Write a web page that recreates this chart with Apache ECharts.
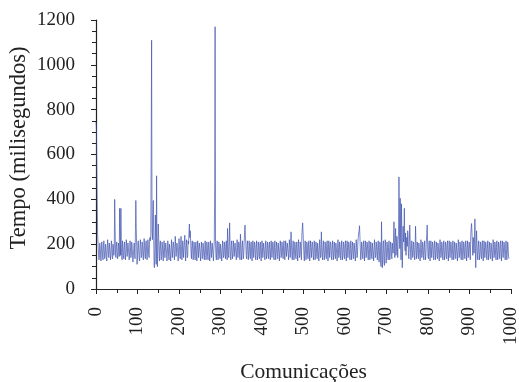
<!DOCTYPE html>
<html><head><meta charset="utf-8">
<script src="https://cdn.jsdelivr.net/npm/echarts@6/dist/echarts.min.js"></script>
<style>html,body{margin:0;padding:0;background:#fff}#c{width:519px;height:382px}</style>
</head><body><div id="c"></div>
<script>
const xTitle = 'Comunicações';
const yTitle = 'Tempo (milisegundos)';
const yTicks = [0, 200, 400, 600, 800, 1000, 1200];
const xTicks = [0, 100, 200, 300, 400, 500, 600, 700, 800, 900, 1000];
// Tempo per comunicação, index = comunicação number (0..995)
const tempo = [
745,720,530,370,240,200,160,130,140,205,190,150,125,170,210,180,140,130,195,215,170,135,150,200,185,140,125,175,220,190,150,140,205,210,160,130,160,215,195,145,135,200,180,150,175,400,280,160,140,190,
210,170,135,150,205,190,145,360,240,150,360,200,140,130,215,185,150,135,195,210,160,130,170,220,190,145,140,205,200,155,130,165,215,185,140,150,210,195,150,120,115,180,205,165,135,260,395,270,190,110,
150,205,215,170,135,125,190,220,185,140,150,210,200,155,130,175,225,190,145,135,205,215,165,130,160,220,195,150,140,210,230,215,240,615,1110,260,220,330,395,250,105,95,180,330,230,110,505,140,100,210,
290,230,150,125,195,215,170,130,145,210,200,150,125,180,215,185,140,135,205,210,160,125,165,215,190,145,130,200,205,155,125,175,220,185,140,140,210,200,150,130,180,235,190,145,140,205,210,165,125,170,
225,195,150,135,200,235,175,130,160,215,190,140,145,210,240,170,125,175,220,185,140,150,215,200,250,290,230,260,215,165,135,190,215,175,130,155,210,195,145,130,200,210,160,125,170,215,185,140,140,205,
205,155,125,175,210,180,135,145,205,200,150,130,180,215,175,130,150,210,195,145,130,195,210,160,125,170,215,185,140,140,205,200,150,125,180,210,440,1170,200,150,130,190,215,170,130,155,210,195,145,135,
200,205,160,125,170,215,185,140,150,210,195,150,135,200,215,165,130,270,210,150,140,205,295,190,145,130,195,215,165,135,160,215,190,145,140,205,210,160,130,175,220,185,140,145,210,200,150,130,245,205,
155,130,185,215,175,135,155,210,250,285,240,200,150,135,195,215,170,130,165,215,190,145,135,200,210,160,125,175,215,185,140,145,210,200,150,130,185,215,175,130,150,210,195,145,135,200,210,160,125,170,
215,185,140,145,205,200,155,130,180,215,175,135,155,210,195,145,135,200,210,160,130,175,215,185,140,145,210,200,150,130,185,215,170,130,160,210,190,145,135,205,210,160,125,175,215,185,140,150,210,195,
150,135,195,215,165,130,165,215,190,145,140,205,210,160,130,180,220,185,140,145,255,200,150,130,185,215,170,130,155,210,195,145,135,200,210,160,125,175,220,185,140,150,210,200,150,130,235,270,295,250,
200,150,125,180,215,175,130,155,210,195,145,135,200,215,165,125,170,215,185,140,145,210,200,150,130,185,215,175,130,160,210,190,145,135,205,210,160,125,175,220,185,140,150,255,200,150,130,185,215,170,
130,155,210,195,145,135,200,215,165,125,170,215,185,140,145,210,200,150,130,180,215,175,130,160,210,190,145,135,205,210,160,125,175,220,185,140,150,210,200,150,130,185,215,170,130,155,210,195,145,135,
200,215,165,125,170,215,185,140,145,210,200,150,130,180,215,175,130,160,210,190,145,135,205,210,160,125,175,220,185,140,150,210,230,250,260,282,230,175,130,155,210,195,145,135,200,215,165,125,170,215,
185,140,145,210,200,150,130,180,215,175,130,160,210,190,145,135,205,210,160,125,175,220,185,140,150,210,200,150,130,185,215,170,120,150,210,195,110,100,300,180,95,130,205,215,120,105,175,220,185,115,
140,210,200,150,130,185,215,170,130,160,210,190,145,135,205,210,160,230,300,210,140,230,270,150,190,235,200,140,210,250,500,330,180,405,230,130,380,260,95,180,280,210,230,360,200,170,250,150,200,230,
190,260,240,145,135,200,285,220,160,130,175,215,185,140,150,210,200,150,130,185,280,200,135,160,210,190,145,135,205,210,160,125,175,220,185,140,150,210,200,150,130,185,215,170,130,155,210,240,285,200,
145,135,200,215,165,125,170,215,185,140,145,210,200,150,130,180,215,175,130,160,210,190,145,135,205,210,160,125,175,220,185,140,150,210,200,150,130,185,215,170,130,155,210,195,145,135,200,215,165,125,
170,215,185,140,145,210,200,150,130,180,215,175,130,160,210,190,145,135,205,210,160,125,175,220,185,140,150,210,200,150,130,185,215,170,130,155,210,195,145,135,200,215,165,125,170,215,185,140,145,210,
200,150,130,240,270,292,250,200,150,230,210,160,220,313,200,95,180,260,200,150,130,185,215,170,130,155,210,195,145,135,200,215,165,125,170,215,185,140,145,210,200,150,130,180,215,175,130,160,210,190,
145,135,205,210,160,125,175,220,185,140,150,210,200,150,130,185,215,170,130,155,210,195,145,135,200,215,165,125,170,215,185,140,145,210,200,150,130,180,215,175,130,160,210,190,145,135
];

const chart = echarts.init(document.getElementById('c'), null, {renderer: 'canvas'});
const font = '"Liberation Serif", "Times New Roman", serif';
const dataPairs = tempo.map((v, i) => [i, v]);
chart.setOption({
  animation: false,
  backgroundColor: '#fff',
  grid: {left: 96, right: 8, top: 20, bottom: 93, containLabel: false, outerBoundsMode: 'none'},
  xAxis: {
    type: 'value', min: xTicks[0], max: xTicks[xTicks.length - 1], interval: 100,
    name: xTitle, nameLocation: 'middle', nameGap: 72,
    nameTextStyle: {fontFamily: font, fontSize: 21.5, color: '#222'},
    axisLine: {show: true, onZero: false, lineStyle: {color: '#222', width: 1.2}},
    axisTick: {show: true, inside: false, length: 5, lineStyle: {color: '#222'}},
    minorTick: {show: true, splitNumber: 2, length: 4, lineStyle: {color: '#222'}},
    axisLabel: {rotate: 90, margin: 18, fontFamily: font, fontSize: 19, color: '#222',
      formatter: v => String(v)},
    splitLine: {show: false}
  },
  yAxis: {
    type: 'value', min: yTicks[0], max: yTicks[yTicks.length - 1], interval: 200,
    axisLine: {show: true, onZero: false, lineStyle: {color: '#222', width: 1.2}},
    axisTick: {show: true, inside: false, length: 5, lineStyle: {color: '#222'}},
    minorTick: {show: true, splitNumber: 4, length: 4, lineStyle: {color: '#222'}},
    axisLabel: {margin: 21, fontFamily: font, fontSize: 19, color: '#222',
      formatter: v => String(v)},
    splitLine: {show: false}
  },
  graphic: [{
    type: 'text', rotation: Math.PI / 2, x: 19, y: 148,
    style: {text: yTitle, font: '22.5px ' + font, fill: '#222', align: 'center', verticalAlign: 'middle'}
  }],
  series: [{
    type: 'line', data: dataPairs, showSymbol: false, symbol: 'none',
    lineStyle: {color: '#3d50ad', width: 0.8, opacity: 0.85}
  }]
});
</script></body></html>
